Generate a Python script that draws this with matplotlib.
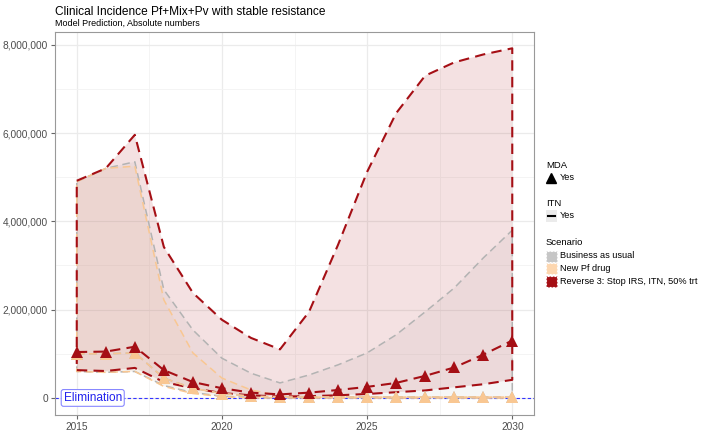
import numpy as np
import matplotlib
matplotlib.use("Agg")
import matplotlib.pyplot as plt
from matplotlib.patches import Rectangle
from matplotlib.lines import Line2D
from matplotlib.ticker import FuncFormatter

plt.rcParams['font.family'] = ['Liberation Sans', 'DejaVu Sans']

# data (millions of cases)
years = np.arange(2015, 2031)

bau_upper = [4.9, 5.2, 5.35, 2.45, 1.54, 0.9, 0.56, 0.34, 0.52, 0.75, 1.02, 1.43, 1.95, 2.49, 3.17, 3.8]
bau_mid = [1.0, 1.0, 1.02, 0.45, 0.22, 0.1, 0.04, 0.02, 0.02, 0.02, 0.02, 0.02, 0.02, 0.02, 0.02, 0.02]
bau_lower = [0.6, 0.58, 0.6, 0.28, 0.12, 0.04, 0.01, 0.0, 0.0, 0.0, 0.0, 0.0, 0.0, 0.0, 0.0, 0.0]

pf_upper = [4.9, 5.2, 5.25, 2.22, 1.02, 0.45, 0.18, 0.05, 0.02, 0.02, 0.02, 0.02, 0.02, 0.02, 0.02, 0.02]
pf_mid = [1.0, 1.0, 1.02, 0.45, 0.22, 0.1, 0.04, 0.02, 0.02, 0.02, 0.02, 0.02, 0.02, 0.02, 0.02, 0.02]
pf_lower = [0.6, 0.58, 0.6, 0.26, 0.1, 0.03, 0.0, 0.0, 0.0, 0.0, 0.0, 0.0, 0.0, 0.0, 0.0, 0.0]

rev_upper = [4.92, 5.2, 5.96, 3.42, 2.38, 1.77, 1.36, 1.1, 1.95, 3.47, 5.12, 6.45, 7.3, 7.6, 7.78, 7.92]
rev_mid = [1.04, 1.05, 1.16, 0.63, 0.36, 0.22, 0.12, 0.08, 0.12, 0.18, 0.25, 0.34, 0.5, 0.69, 0.98, 1.3]
rev_lower = [0.63, 0.61, 0.68, 0.36, 0.22, 0.11, 0.06, 0.03, 0.04, 0.06, 0.09, 0.13, 0.17, 0.24, 0.31, 0.41]

scenarios = ["Business as usual", "New Pf drug", "Reverse 3: Stop IRS, ITN, 50% trt"]
colors = ["#bdbdbd", "#fdd0a2", "#a50f15"]
line_colors = ["#b3b3b3", "#f9c792", "#a50f15"]

series = [(bau_lower, bau_mid, bau_upper), (pf_lower, pf_mid, pf_upper), (rev_lower, rev_mid, rev_upper)]

fig = plt.figure(figsize=(7.15, 4.32), dpi=100)
ax = fig.add_axes([0.0769, 0.039, 0.67, 0.887])

dash = (0, (5, 3))
for (lo, mid, up), fc, lc in zip(series, colors, line_colors):
    lo = np.array(lo) * 1e6
    mid = np.array(mid) * 1e6
    up = np.array(up) * 1e6
    lw = 1.5 if lc == "#a50f15" else 1.1
    px = np.concatenate([years, years[::-1], years[:1]])
    py = np.concatenate([up, lo[::-1], up[:1]])
    ax.fill(px, py, facecolor=fc, alpha=0.12, edgecolor="none", zorder=2)
    ax.plot(px, py, color=lc, linestyle=dash, linewidth=lw, zorder=2.5)
    ax.plot(years, mid, color=lc, linestyle=dash, linewidth=lw, marker="^",
            markersize=8, markeredgewidth=0, zorder=3)

# elimination line
ax.axhline(0, color="#3333ff", linestyle=(0, (3, 2)), linewidth=0.8, zorder=1.5)
ax.text(2015.55, 0, "Elimination", color="#2222ee", fontsize=8.6, ha="center", va="center", zorder=5,
        bbox=dict(boxstyle="round,pad=0.2,rounding_size=0.2", facecolor="white", edgecolor="#8888ff", linewidth=0.8))

ax.set_xlim(2014.25, 2030.75)
ax.set_ylim(-0.39e6, 8.29e6)
ax.set_xticks([2015, 2020, 2025, 2030])
ax.set_xticks([2017.5, 2022.5, 2027.5], minor=True)
ax.set_yticks([0, 2e6, 4e6, 6e6, 8e6])
ax.set_yticks([1e6, 3e6, 5e6, 7e6], minor=True)
ax.yaxis.set_major_formatter(FuncFormatter(lambda v, p: f"{int(v):,}"))
ax.grid(which="major", color="#ebebeb", linewidth=0.9, zorder=0)
ax.grid(which="minor", color="#f3f3f3", linewidth=0.6, zorder=0)
ax.set_axisbelow(True)
ax.tick_params(which="major", length=3, color="#666666", labelsize=7.3, labelcolor="#4d4d4d", pad=2)
ax.tick_params(which="minor", length=0)
for s in ax.spines.values():
    s.set_color("#999999")
    s.set_linewidth(0.8)

fig.text(0.0769, 0.972, "Clinical Incidence Pf+Mix+Pv with stable resistance", fontsize=8.6, va="center")
fig.text(0.0769, 0.945, "Model Prediction, Absolute numbers", fontsize=6.5, va="center")

# legend
def fy(py):
    return 1 - py / 432

def fx(px):
    return px / 715

lx = fx(546)
tx = fx(560)
fig.text(lx, fy(165), "MDA", fontsize=6.8, va="center")
fig.add_artist(Line2D([fx(551)], [fy(178)], marker="^", color="black", markersize=7, transform=fig.transFigure))
fig.text(tx, fy(178), "Yes", fontsize=6.6, va="center")

fig.text(lx, fy(203), "ITN", fontsize=6.8, va="center")
fig.add_artist(Rectangle((fx(546), fy(222)), fx(11), 12 / 432, facecolor="#ebebeb", edgecolor="none", transform=fig.transFigure))
fig.add_artist(Line2D([fx(548), fx(555)], [fy(216), fy(216)], color="black", linewidth=1.5, transform=fig.transFigure))
fig.text(tx, fy(216), "Yes", fontsize=6.6, va="center")

fig.text(lx, fy(242), "Scenario", fontsize=6.8, va="center")
key_fc = ["#c6c6c6", "#fdd7b0", "#a50f15"]
for i, (name, kc) in enumerate(zip(scenarios, key_fc)):
    y = 256 + i * 12.5
    fig.add_artist(Rectangle((fx(546), fy(y + 5.5)), fx(11), 11 / 432, facecolor=kc, edgecolor="white",
                             linestyle=(0, (1.5, 1.5)), linewidth=0.8, transform=fig.transFigure))
    fig.text(tx, fy(y), name, fontsize=6.6, va="center")

fig.savefig("out.png", dpi=100)
